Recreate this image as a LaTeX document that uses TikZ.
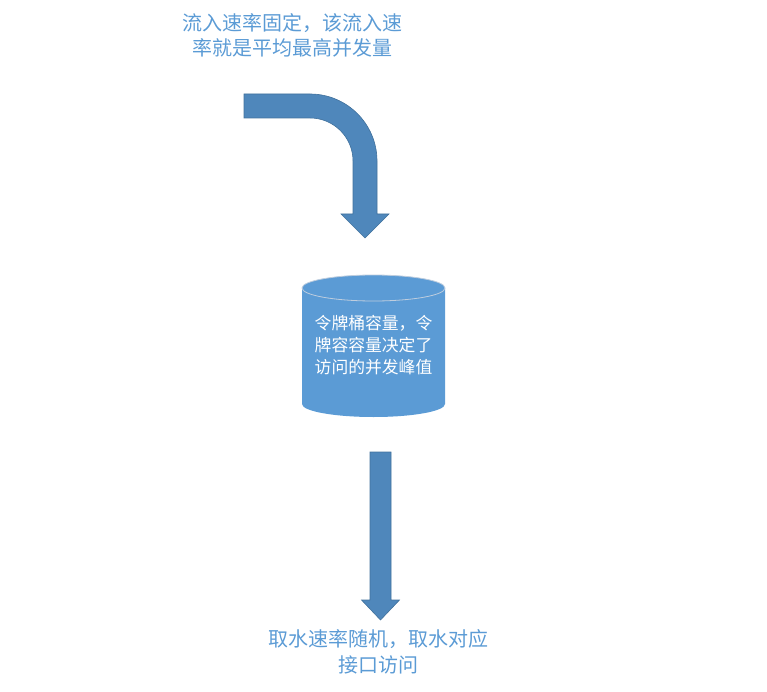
\documentclass[tikz,border=0pt]{standalone}
\usepackage{fontspec}
\newfontfamily\cjk{Noto Sans CJK SC}
\usepackage{xcolor}
\usepackage{tikz}
\definecolor{arrowblue}{RGB}{79,135,187}
\definecolor{arrowedge}{RGB}{65,113,156}
\definecolor{bucketblue}{RGB}{91,155,213}
\definecolor{rimline}{RGB}{190,205,222}
\definecolor{labelblue}{RGB}{91,155,213}
\tikzset{
  blockarrow/.style={fill=arrowblue, draw=arrowedge, line width=0.6pt, line join=miter},
  outerlabel/.style={font=\cjk\fontsize{20}{25.8}\selectfont, text=labelblue, align=center, inner sep=0pt},
  bucketlabel/.style={font=\cjk\fontsize{16.8}{22}\selectfont, text=white, align=center, inner sep=0pt}
}

\begin{document}
\begin{tikzpicture}[x=1pt, y=-1pt]
  \useasboundingbox (0,0) rectangle (767,692);
  % ---------- inflow ----------
  \node[outerlabel] (inflow) at (292,35.5) {流入速率固定，该流入速\\率就是平均最高并发量};
  \draw[blockarrow] (244,94) -- (310,94) arc[start angle=270, end angle=360, radius=67]
    -- (377,214) -- (389,214) -- (365,238) -- (341,214) -- (353,214)
    -- (353,161) arc[start angle=0, end angle=-90, radius=43]
    -- (244,118) -- cycle;
  % ---------- bucket ----------
  \fill[bucketblue] (302,288) -- (302,404)
    arc[start angle=180, end angle=0, x radius=71.5, y radius=13]
    -- (445,288) arc[start angle=0, end angle=-180, x radius=71.5, y radius=13] -- cycle;
  \draw[rimline, line width=0.8pt] (373.5,288) ellipse[x radius=71.5, y radius=13];
  \node[bucketlabel] (bucket) at (373.5,345) {令牌桶容量，令\\牌容容量决定了\\访问的并发峰值};
  % ---------- outflow ----------
  \draw[blockarrow] (370,452) -- (391,452) -- (391,600) -- (399.5,600) -- (380.5,620)
    -- (361.5,600) -- (370,600) -- cycle;
  \node[outerlabel] (outflow) at (378,652) {取水速率随机，取水对应\\接口访问};
\end{tikzpicture}
\end{document}
